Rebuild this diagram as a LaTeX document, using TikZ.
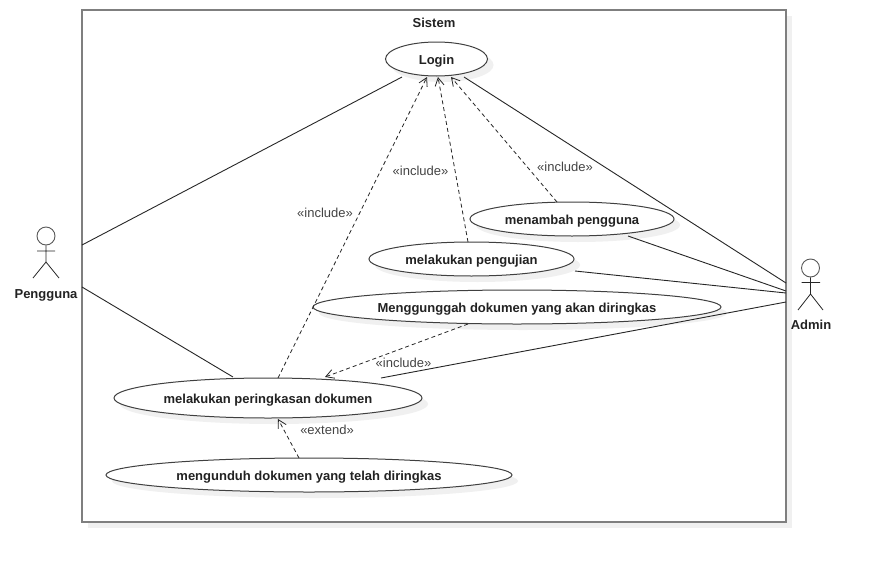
\documentclass[tikz,border=0pt]{standalone}
\usepackage{fontspec}
\setmainfont{Liberation Sans}
\usetikzlibrary{arrows.meta,shapes.geometric}
\definecolor{shadowgray}{HTML}{F0F0F0}
\definecolor{framegray}{HTML}{7F7F7F}
\definecolor{inktext}{HTML}{222222}
\definecolor{labeltext}{HTML}{444444}
\tikzset{
  usecase/.style={ellipse,draw=black!75,line width=1pt,fill=white,inner sep=0pt,minimum width=#1,font=\fontsize{13}{14}\selectfont\bfseries,text=inktext,minimum height=34pt,text height=10.5pt,text depth=0pt},
  usecaseshade/.style={ellipse,fill=shadowgray,inner sep=0pt,minimum width=#1,minimum height=34pt},
  assoc/.style={draw=black!85,line width=0.9pt},
  dep/.style={draw=black!85,line width=0.8pt,dash pattern=on 4pt off 3pt,-{Straight Barb[length=8pt,width=9pt,line width=0.8pt]}},
  deplabel/.style={font=\fontsize{13}{14}\selectfont,text=labeltext,inner sep=0pt},
  actorname/.style={font=\fontsize{13}{14}\selectfont\bfseries,text=inktext,inner sep=0pt,text height=10.5pt,text depth=0pt},
  limb/.style={draw=black!85,line width=0.8pt},
  head/.style={draw=black!65,line width=0.9pt,circle,inner sep=0pt,minimum size=18pt}
}
\begin{document}
\begin{tikzpicture}[x=1pt,y=-1pt]
\useasboundingbox (0,0) rectangle (875,562);
% system frame
\fill[shadowgray] (88,16) rectangle (792,528);
\node[draw=framegray,line width=1.6pt,fill=white,rectangle,minimum width=704pt,minimum height=512pt,inner sep=0pt] (sistem) at (434,266) {};
\node[actorname] (sistemlabel) at (434,22) {Sistem};
% shadows
\node[usecaseshade=102pt] at (442.5,65) {};
\node[usecaseshade=204pt] at (578,225) {};
\node[usecaseshade=205pt] at (477.5,265) {};
\node[usecaseshade=408pt] at (523,313) {};
\node[usecaseshade=308pt,minimum height=40pt] at (274,404) {};
\node[usecaseshade=406pt] at (315,481) {};
% use cases
\node[usecase=102pt] (login) at (436.5,59) {Login};
\node[usecase=204pt] (tambah) at (572,219) {menambah pengguna};
\node[usecase=205pt] (uji) at (471.5,259) {melakukan pengujian};
\node[usecase=408pt] (unggah) at (517,307) {Menggunggah dokumen yang akan diringkas};
\node[usecase=308pt,minimum height=40pt] (ringkas) at (268,398) {melakukan peringkasan dokumen};
\node[usecase=406pt] (unduh) at (309,475) {mengunduh dokumen yang telah diringkas};
% actors
\node[head] (pengguna) at (46,236) {};
\draw[limb] (pengguna.south) -- (46,262) (37,251) -- (55,251) (33,278) -- (46,262) -- (59,278);
\node[actorname] (penggunalabel) at (46,293) {Pengguna};
\node[head] (admin) at (810.5,268) {};
\draw[limb] (admin.south) -- (810.5,294) (801.5,282.5) -- (820,282.5) (798,310) -- (810.5,294) -- (823,310);
\node[actorname] (adminlabel) at (811,324) {Admin};
% free ends on the frame
\coordinate (p1) at (82,245);
\coordinate (p2) at (82,287);
\coordinate (a1) at (786,283);
\coordinate (a2) at (786,291);
\coordinate (a3) at (786,293);
\coordinate (a4) at (786,302);
% associations
\draw[assoc] (p1) -- ([shift={(-34.5,18)}]login.center);
\draw[assoc] (p2) -- ([shift={(-35,-21)}]ringkas.center);
\draw[assoc] (a1) -- ([shift={(27.5,18)}]login.center);
\draw[assoc] (a2) -- ([shift={(56,17)}]tambah.center);
\draw[assoc] (a3) -- ([shift={(103.5,12)}]uji.center);
\draw[assoc] (a4) -- ([shift={(113,-20)}]ringkas.center);
% dependencies
\draw[dep] ([shift={(10,-20)}]ringkas.center) -- ([shift={(-9.5,18)}]login.center);
\draw[dep] ([shift={(-3.5,-17)}]uji.center) -- ([shift={(1.5,18)}]login.center);
\draw[dep] ([shift={(-15,-17)}]tambah.center) -- ([shift={(14.5,18)}]login.center);
\draw[dep] ([shift={(-49,17)}]unggah.center) -- ([shift={(57,-21)}]ringkas.center);
\draw[dep] ([shift={(-10,-17)}]unduh.center) -- ([shift={(10,21)}]ringkas.center);
% labels
\node[deplabel] (inc1) at (420.5,171) {«include»};
\node[deplabel] (inc2) at (325,213) {«include»};
\node[deplabel] (inc3) at (565,167) {«include»};
\node[deplabel] (inc4) at (403.5,363) {«include»};
\node[deplabel] (ext1) at (327,430) {«extend»};
\end{tikzpicture}
\end{document}
